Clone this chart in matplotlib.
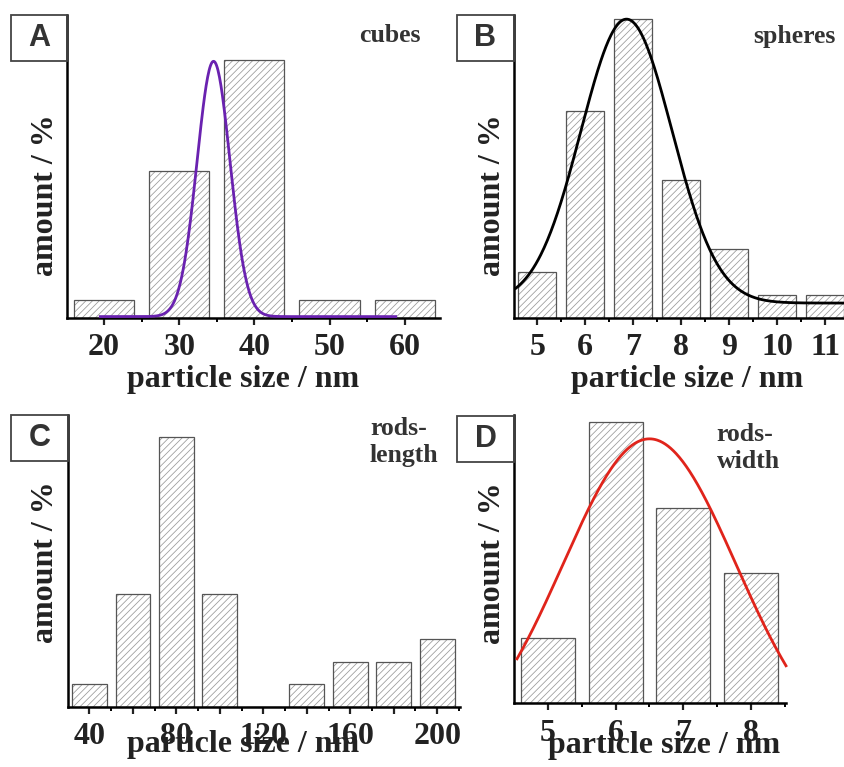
import numpy as np
import matplotlib
matplotlib.use("Agg")
import matplotlib.pyplot as plt
from matplotlib.patches import Rectangle
from matplotlib.ticker import FixedLocator, FixedFormatter

plt.rcParams['font.family'] = ['Liberation Serif', 'DejaVu Serif']
plt.rcParams['font.weight'] = 'bold'
plt.rcParams['hatch.linewidth'] = 0.55

W, H = 844, 767

# panel A - cubes
cubes_size = [20, 30, 40, 50, 60]
cubes_amount = [1.0, 8.3, 14.6, 1.0, 1.0]
cubes_fit = dict(xc=34.57, sigma=2.2, amp=14.45, y0=0.08, x0=19.5, x1=58.8)

# panel B - spheres
spheres_size = [5, 6, 7, 8, 9, 10, 11]
spheres_amount = [2, 9, 13, 6, 3, 1, 1]
spheres_fit = dict(xc=6.86, sigma=0.95, amp=12.36, y0=0.65, x0=4.55, x1=11.5)

# panel C - rods length
length_size = [40, 60, 80, 100, 120, 140, 160, 180, 200]
length_amount = [1, 5, 12, 5, 0, 1, 2, 2, 3]

# panel D - rods width
width_size = [5, 6, 7, 8]
width_amount = [3, 13, 9, 6]
width_fit = dict(xc=6.5, sigma=1.28, amp=14.7, y0=-2.5, x0=4.54, x1=8.52)


def fx(x):
    return x / W


def fy(y):
    return 1 - y / H


def make_axes(fig, left, right, top, bottom):
    return fig.add_axes([fx(left), fy(bottom), (right - left) / W, (bottom - top) / H])


def bars(ax, x, h, w):
    ax.bar(x, h, width=w, color='white', edgecolor='#999999', linewidth=0, hatch='/////', zorder=1)
    ax.bar(x, h, width=w, fill=False, edgecolor='#555555', linewidth=0.9, zorder=2)


def gauss(ax, p, color):
    xs = np.linspace(p['x0'], p['x1'], 400)
    ys = p['y0'] + p['amp'] * np.exp(-(xs - p['xc']) ** 2 / (2 * p['sigma'] ** 2))
    ax.plot(xs, ys, color=color, lw=2.0, zorder=3, clip_on=False)


def style(ax, xlim, ylim, major, minor, labels=None):
    ax.set_xlim(*xlim)
    ax.set_ylim(*ylim)
    for s in ['top', 'right']:
        ax.spines[s].set_visible(False)
    for s in ['left', 'bottom']:
        ax.spines[s].set_linewidth(1.8)
    ax.set_yticks([])
    ax.xaxis.set_major_locator(FixedLocator(major))
    if labels is not None:
        ax.xaxis.set_major_formatter(FixedFormatter(labels))
    ax.xaxis.set_minor_locator(FixedLocator(minor))
    ax.tick_params(axis='x', which='major', direction='out', length=5, width=1.6,
                   labelsize=23, pad=6, colors='#222222')
    ax.tick_params(axis='x', which='minor', direction='out', length=3, width=1.4)
    for t in ax.get_xticklabels():
        t.set_fontweight('bold')


def labels(ax, xl, yl, fig):
    ax.set_xlabel('particle size / nm', fontsize=23, fontweight='bold', color='#222222')
    ax.xaxis.label.set_va('baseline')
    ax.xaxis.set_label_coords(fx(xl[0]), fy(xl[1]), transform=fig.transFigure)
    ax.set_ylabel('amount / %', fontsize=23, fontweight='bold', color='#222222')
    ax.yaxis.label.set_va('baseline')
    ax.yaxis.set_label_coords(fx(yl[0]), fy(yl[1]), transform=fig.transFigure)


def letter_box(fig, letter, x0, y0, x1, y1):
    fig.add_artist(Rectangle((fx(x0), fy(y1)), (x1 - x0) / W, (y1 - y0) / H,
                             transform=fig.transFigure, fill=False,
                             edgecolor='#444444', linewidth=1.3))
    fig.text(fx((x0 + x1) / 2), fy((y0 + y1) / 2), letter, ha='center', va='center',
             family='Liberation Sans', fontweight='bold', fontsize=22, color='#333333')


def note(fig, x, y, s):
    fig.text(fx(x), fy(y), s, ha='left', va='baseline', fontsize=18.5,
             fontweight='bold', color='#333333')


fig = plt.figure(figsize=(8.44, 7.67), dpi=100)

# A
axA = make_axes(fig, 67, 440, 15, 318)
bars(axA, cubes_size, cubes_amount, 8)
gauss(axA, cubes_fit, '#6a22b0')
style(axA, (15.07, 64.7), (0, 17.15), [20, 30, 40, 50, 60], [25, 35, 45, 55])
labels(axA, (243, 387), (53.3, 195), fig)
letter_box(fig, 'A', 11, 15, 67, 61)
note(fig, 359, 41.7, 'cubes')

# B
axB = make_axes(fig, 514.3, 849, 15, 318)
bars(axB, spheres_size, spheres_amount, 0.8)
gauss(axB, spheres_fit, 'black')
style(axB, (4.52, 11.5), (0, 13.19), spheres_size, [5.5, 6.5, 7.5, 8.5, 9.5, 10.5])
labels(axB, (686.7, 386.7), (500, 195), fig)
letter_box(fig, 'B', 456.7, 15, 514.3, 61)
note(fig, 753, 43.3, 'spheres')

# C
axC = make_axes(fig, 67.7, 460, 415, 706.7)
bars(axC, length_size, length_amount, 16)
style(axC, (30, 210.5), (0, 12.96), [40, 60, 80, 100, 120, 140, 160, 180, 200],
      [50, 70, 90, 110, 130, 150, 170, 190, 210],
      ['40', '', '80', '', '120', '', '160', '', '200'])
labels(axC, (243, 751.7), (53.3, 562.5), fig)
letter_box(fig, 'C', 11, 415, 67.7, 461)
note(fig, 370, 435, 'rods-')
note(fig, 370, 461.7, 'length')

# D
axD = make_axes(fig, 514.3, 786, 415, 703.3)
bars(axD, width_size, width_amount, 0.8)
gauss(axD, width_fit, '#e0241b')
style(axD, (4.5, 8.52), (0, 13.3), width_size, [5.5, 6.5, 7.5, 8.5])
labels(axD, (664, 753.3), (500, 563), fig)
letter_box(fig, 'D', 456.7, 415.7, 514.3, 461.7)
note(fig, 716.7, 440.7, 'rods-')
note(fig, 716.7, 468.3, 'width')

fig.savefig('out.png', dpi=100)
